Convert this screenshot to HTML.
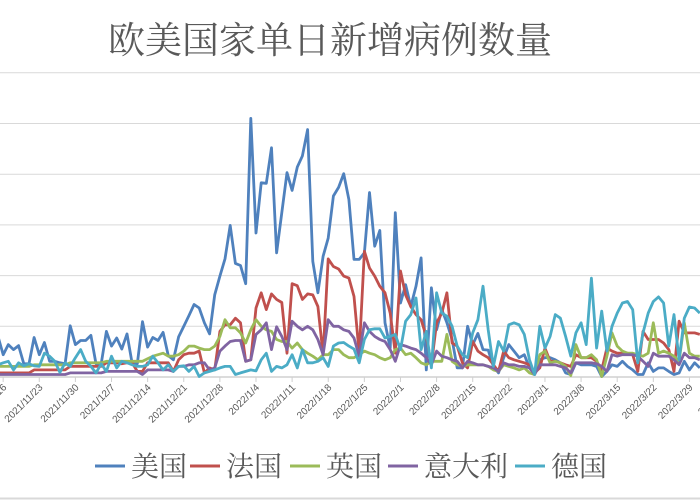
<!DOCTYPE html>
<html><head><meta charset="utf-8"><style>
body{margin:0;background:#fff;}
svg{display:block;font-family:"Liberation Sans","Noto Sans CJK SC",sans-serif;}
</style></head><body>
<svg id="chart" width="700" height="500">
<text x="330" y="53" text-anchor="middle" font-size="37" fill="#595959" style="font-family:'Liberation Serif','Noto Serif CJK SC',serif">欧美国家单日新增病例数量</text>
<g id="grid"></g>
<g id="xaxis"></g>
<g id="series"></g>
<g id="legend"></g>
<line x1="0" y1="498.5" x2="700" y2="498.5" stroke="#d9d9d9" stroke-width="2"/>
</svg>
<script>
const gridLevels=[0,100,200,300,400,500,600];
const dateLabels=["2021/11/16","2021/11/23","2021/11/30","2021/12/7","2021/12/14","2021/12/21","2021/12/28","2022/1/4","2022/1/11","2022/1/18","2022/1/25","2022/2/1","2022/2/8","2022/2/15","2022/2/22","2022/3/1","2022/3/8","2022/3/15","2022/3/22","2022/3/29","2022/4/5"];
const seriesNames=["美国","法国","英国","意大利","德国"];
const usa=[80,44,64,54,62,26,26,78,44,68,31,31,28,26,101,64,72,72,82,26,26,90,61,77,55,85,26,26,109,59,78,72,88,42,34,79,100,121,143,136,107,85,162,199,233,299,224,220,184,510,284,383,382,452,245,324,403,368,414,436,488,228,166,238,274,357,374,401,350,232,232,245,364,258,289,107,57,324,146,182,139,179,235,14,176,93,133,107,74,18,18,100,64,86,54,53,21,8,38,64,51,38,44,18,5,34,38,38,34,28,8,5,28,24,24,24,21,1,11,24,21,31,21,14,5,5,28,11,18,18,11,5,8,31,14,28,18];
const france=[8,8,8,8,8,8,8,14,14,14,14,14,14,14,21,21,21,21,21,21,21,28,28,28,26,28,28,11,11,28,28,28,28,28,11,34,44,47,47,51,8,18,14,90,103,103,116,107,31,34,136,166,133,164,153,147,47,184,180,153,164,162,139,44,233,218,213,199,195,159,47,248,215,199,179,166,126,47,209,162,139,123,113,80,24,107,126,166,67,61,28,18,70,51,44,38,24,11,51,38,34,31,28,24,8,18,57,31,31,28,24,21,44,38,38,38,31,14,57,51,47,47,47,44,11,90,74,74,74,67,54,11,110,87,87,87,84];
const uk=[21,21,21,21,21,21,21,24,24,24,24,24,24,24,28,28,28,28,28,28,28,31,31,31,31,31,31,31,31,36,41,44,47,41,41,44,51,61,61,57,54,54,61,80,113,97,97,87,67,93,113,100,93,90,74,70,70,57,67,54,47,41,34,44,44,54,54,44,38,38,44,51,47,44,38,34,38,54,57,44,47,38,28,24,31,31,31,84,31,24,21,24,24,24,24,21,14,11,24,21,18,14,18,8,5,44,51,28,31,28,21,3,64,38,38,44,34,1,41,87,61,51,47,47,44,41,47,107,47,51,47,41,31,107,47,41,41];
const italy=[5,5,5,5,5,5,5,5,5,5,5,5,5,5,8,8,8,8,8,8,8,11,11,11,11,11,11,11,5,14,14,14,14,14,11,21,21,24,24,28,28,14,18,51,61,70,72,72,31,34,84,93,107,54,99,80,54,110,100,93,100,93,74,44,113,100,100,93,90,77,41,107,90,80,74,70,54,31,64,61,57,54,47,38,24,51,41,38,34,31,18,31,28,24,24,21,18,11,28,24,24,21,21,18,5,24,24,24,24,21,18,8,28,28,28,28,26,21,11,44,41,44,44,44,41,31,21,47,41,41,41,34,24,47,38,38,34];
const germany=[24,28,31,14,28,22,26,22,21,47,41,31,9,28,21,38,54,31,21,8,26,11,41,18,31,28,24,21,21,24,41,28,14,24,11,21,22,11,21,1,8,11,14,18,21,21,5,8,11,14,12,34,47,11,21,18,24,44,18,54,28,28,31,38,21,61,67,68,61,55,28,74,93,95,95,77,80,84,54,110,123,156,54,90,18,166,126,120,100,61,44,38,87,113,179,93,21,70,51,103,107,103,84,34,5,100,57,80,123,116,80,41,87,107,64,195,57,130,51,100,126,146,149,133,28,87,126,149,158,146,61,123,34,116,138,136,126];
const allSeries=[usa,france,uk,italy,germany];
const colors=["#4f81bd","#c0504d","#9bbb59","#8064a2","#4bacc6"];
const slugs=["usa","france","uk","italy","germany"];
const NS="http://www.w3.org/2000/svg";
const X0=-2,STEP=5.16,Y0=377,YS=0.507;
function xPos(i){return X0+STEP*i;}
function yPos(v){return Y0-v*YS;}
function mk(tag,attrs,parent){const e=document.createElementNS(NS,tag);for(const k in attrs)e.setAttribute(k,attrs[k]);parent.appendChild(e);return e;}
const grid=document.getElementById('grid');
gridLevels.forEach((g,gi)=>{
  const l=mk('line',{x1:0,x2:700,y1:yPos(g),y2:yPos(g),stroke:gi===0?'#d0d0d0':'#d9d9d9','stroke-width':gi===0?1.5:1},grid);
  
  
});
const xa=document.getElementById('xaxis');
dateLabels.forEach((d,k)=>{
  const x=xPos(1+7*k);
  const t=mk('line',{x1:x,x2:x,y1:Y0,y2:Y0+5,stroke:'#d0d0d0','stroke-width':1},xa);
  
  
  const tx=mk('text',{x:x+4,y:Y0+11,'text-anchor':'end','font-size':10,fill:'#595959',transform:`rotate(-45 ${x+4} ${Y0+11})`},xa);
  tx.textContent=d;
  
  
});
const sg=document.getElementById('series');
allSeries.forEach((s,si)=>{
  const pts=s.map((v,i)=>xPos(i).toFixed(1)+','+yPos(v).toFixed(1)).join(' ');
  const p=mk('polyline',{points:pts,fill:'none',stroke:colors[si],'stroke-width':2.8,'stroke-linejoin':'round'},sg);
  
  
});
const lg=document.getElementById('legend');
const legX=[95,190,290,388,515];
seriesNames.forEach((n,si)=>{
  const g=mk('g',{},lg);
  
  
  mk('line',{x1:legX[si],x2:legX[si]+30,y1:466,y2:466,stroke:colors[si],'stroke-width':3},g);
  const t=mk('text',{x:legX[si]+36,y:476,'font-size':28,fill:'#595959',style:"font-family:'Liberation Serif','Noto Serif CJK SC',serif"},g);
  t.textContent=n;
});
</script>
</body></html>
